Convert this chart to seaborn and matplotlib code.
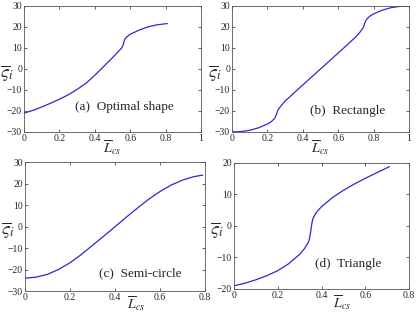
import matplotlib
matplotlib.use('Agg')
import matplotlib.pyplot as plt
import matplotlib.transforms as mtransforms
import pandas as pd
import seaborn as sns

# (a) optimal shape
xa = [0.0, 0.05, 0.1, 0.15, 0.2, 0.25, 0.3, 0.35, 0.4, 0.45, 0.5, 0.53, 0.55, 0.56,
      0.565, 0.57, 0.58, 0.6, 0.65, 0.7, 0.75, 0.81]
ya = [-21.0, -19.7, -18.1, -16.3, -14.4, -12.3, -9.7, -6.8, -3.0, 1.2, 5.4, 8.0, 9.8, 11.3,
      13.0, 14.2, 15.2, 16.5, 18.5, 20.0, 21.0, 21.6]
# (b) rectangle
xb = [0.0, 0.05, 0.1, 0.15, 0.2, 0.22, 0.24, 0.25, 0.255, 0.26, 0.28, 0.3, 0.35, 0.4, 0.45,
      0.5, 0.55, 0.6, 0.65, 0.7, 0.72, 0.74, 0.745, 0.75, 0.76, 0.78, 0.8, 0.85, 0.9, 0.95, 1.0]
yb = [-30.0, -29.8, -29.2, -28.0, -26.2, -25.2, -23.6, -21.8, -20.5, -19.4, -17.2, -15.3,
      -11.4, -7.6, -3.8, 0.0, 3.8, 7.6, 11.4, 15.3, 17.2, 19.4, 20.5, 21.8, 23.6, 25.2,
      26.2, 28.0, 29.2, 29.8, 30.0]
# (c) semi-circle
xc = [0.0, 0.05, 0.1, 0.15, 0.2, 0.25, 0.3, 0.35, 0.4, 0.45, 0.5, 0.55, 0.6, 0.65, 0.7,
      0.75, 0.79]
yc = [-24.0, -23.5, -22.2, -19.9, -16.8, -13.0, -8.7, -4.4, 0.0, 4.4, 8.7, 12.8, 16.4,
      19.4, 21.7, 23.3, 24.0]
# (d) triangle
xd = [0.0, 0.05, 0.1, 0.15, 0.2, 0.25, 0.3, 0.32, 0.34, 0.345, 0.35, 0.355, 0.36, 0.37,
      0.38, 0.4, 0.45, 0.5, 0.55, 0.6, 0.65, 0.71]
yd = [-19.0, -18.2, -17.1, -15.8, -14.2, -12.0, -9.0, -7.4, -5.2, -4.0, -2.0, 0.5, 2.2,
      3.6, 4.6, 6.1, 9.0, 11.3, 13.3, 15.1, 16.8, 18.8]

labels = ['(a)  Optimal shape', '(b)  Rectangle', '(c)  Semi-circle', '(d)  Triangle']

sns.set_style('ticks')
plt.rcParams['font.family'] = ['Liberation Serif', 'DejaVu Serif']
plt.rcParams['mathtext.fontset'] = 'stix'

fig = plt.figure(figsize=(4.16, 3.12), dpi=100)
rects = [[0.058, 0.577, 0.425, 0.404],
         [0.558, 0.577, 0.425, 0.404],
         [0.060, 0.067, 0.433, 0.413],
         [0.5625, 0.074, 0.421, 0.404]]
data = [(xa, ya), (xb, yb), (xc, yc), (xd, yd)]
xlims = [(0, 1), (0, 1), (0, 0.8), (0, 0.8)]
ylims = [(-30, 30), (-30, 30), (-30, 30), (-20, 20)]
xticks = [[0, 0.2, 0.4, 0.6, 0.8, 1], [0, 0.2, 0.4, 0.6, 0.8, 1],
          [0, 0.2, 0.4, 0.6, 0.8], [0, 0.2, 0.4, 0.6, 0.8]]
yticks = [[-30, -20, -10, 0, 10, 20, 30]] * 3 + [[-20, -10, 0, 10, 20]]
text_pos = [(0.29, 0.2), (0.44, 0.17), (0.41, 0.14), (0.46, 0.2)]
xlab_y = [-0.05, -0.05, -0.03, -0.04]

for i in range(4):
    ax = fig.add_axes(rects[i])
    df = pd.DataFrame({'x': data[i][0], 'y': data[i][1]})
    sns.lineplot(data=df, x='x', y='y', ax=ax, color='#2a2ad0', linewidth=0.9)
    ax.set_xlim(*xlims[i])
    ax.set_ylim(*ylims[i])
    ax.set_xticks(xticks[i])
    ax.set_xticklabels([f'{t:g}' for t in xticks[i]])
    ax.set_yticks(yticks[i])
    ax.set_yticklabels([str(t).replace('-', '\u2212') for t in yticks[i]])
    ax.tick_params(direction='in', top=True, right=True, labelsize=7, length=2.5, width=0.5, pad=1.5)
    for s in ax.spines.values():
        s.set_linewidth(0.6)
        s.set_color('#555555')
    ax.set_xlabel('')
    ax.set_ylabel('')
    # x label sits between the 0.4 and 0.6 tick labels
    trans = mtransforms.blended_transform_factory(ax.transData, ax.transAxes)
    ax.text(0.495, xlab_y[i], r'$\overline{L}_{cs}$', transform=trans,
            fontsize=10, ha='center', va='top')
    ax.text(-0.135, 0.47, r'$\overline{\varsigma}_i$', transform=ax.transAxes,
            fontsize=13, ha='left', va='center')
    ax.text(text_pos[i][0], text_pos[i][1], labels[i], transform=ax.transAxes,
            fontsize=9.5, ha='left', va='center')

fig.savefig('out.png', dpi=100)
